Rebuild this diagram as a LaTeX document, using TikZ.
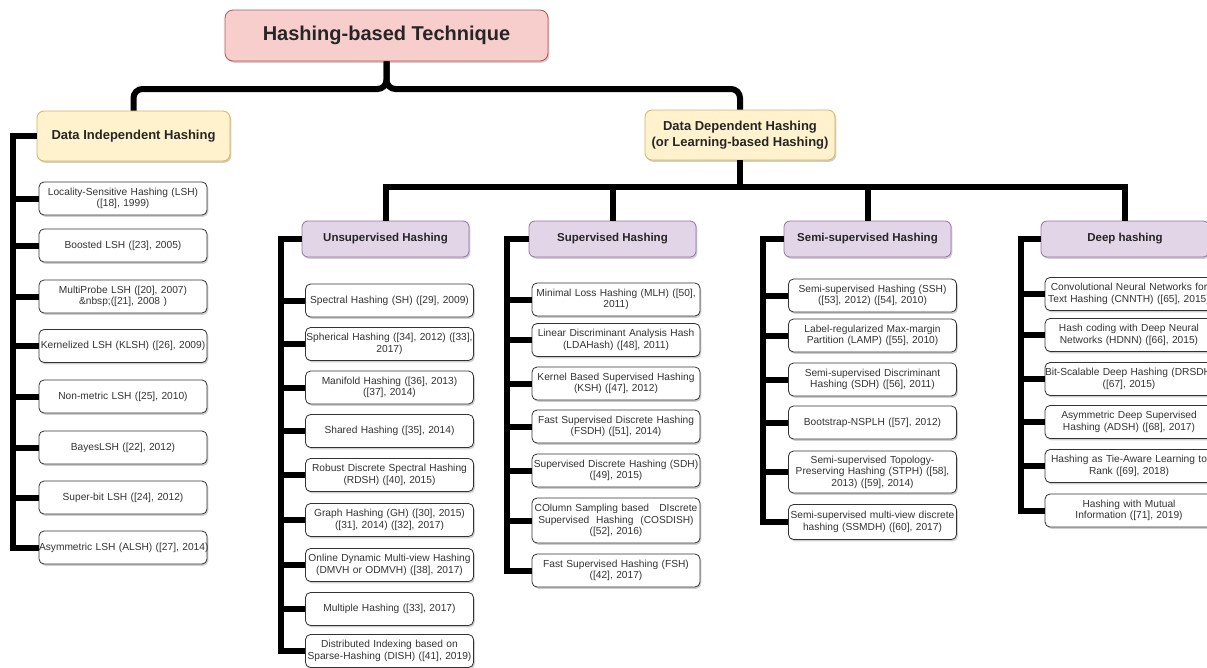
\documentclass[tikz,border=0pt]{standalone}
\usepackage{fontspec}
\setmainfont{Liberation Sans}
\usetikzlibrary{shadows}
\definecolor{rootfill}{HTML}{F8CECC}
\definecolor{rootline}{HTML}{B85450}
\definecolor{yelfill}{HTML}{FFF2CC}
\definecolor{yelline}{HTML}{D6B656}
\definecolor{purfill}{HTML}{E1D5E7}
\definecolor{purline}{HTML}{9673A6}
\definecolor{txt}{HTML}{333333}
\begin{document}
\begin{tikzpicture}[x=1pt,y=-1pt,
  shadowed/.style={drop shadow={shadow xshift=1.3pt,shadow yshift=-1.8pt,fill=black!55,opacity=0.35}},
  box/.style={shadowed,draw=black!80,line width=0.8pt,rounded corners=5pt,fill=white},
  item/.style={box,text width=168pt,inner xsep=0pt,inner ysep=0pt,align=center,
    minimum height=33pt,text=txt,font=\fontsize{10.2}{11.4}\selectfont},
  cat/.style={shadowed,draw=purline,line width=0.8pt,rounded corners=6pt,fill=purfill,
    minimum width=167pt,minimum height=36pt,inner sep=0pt,text=black!85,
    font=\bfseries\fontsize{11.5}{13}\selectfont},
  top/.style={shadowed,draw=yelline,line width=0.8pt,rounded corners=7pt,fill=yelfill,
    minimum height=50pt,inner sep=0pt,align=center,text=black!85,
    font=\bfseries\fontsize{13}{15.5}\selectfont},
  conn/.style={line width=6pt,black,line join=miter}
]
\useasboundingbox (0,0) rectangle (1207,667);

% junctions and spine tops
\coordinate (rj) at (386.5,89);
\coordinate (dj) at (740,187);
\coordinate (sp0) at (13,136);
\coordinate (sp1) at (281,239);
\coordinate (sp2) at (507,239);
\coordinate (sp3) at (763,239);
\coordinate (sp4) at (1021,239);

% root
\node[shadowed,draw=rootline,line width=0.8pt,rounded corners=8pt,fill=rootfill,
  minimum width=323pt,minimum height=51pt,inner sep=0pt,text=black!85,
  font=\bfseries\fontsize{20}{24}\selectfont] (root) at (386.5,35.5) {Hashing-based Technique};

% main branches
\node[top,minimum width=193pt] (dih) at (133.5,136) {Data Independent Hashing};
\node[top,minimum width=190pt] (ddh) at (740,135) {Data Dependent Hashing\\(or Learning-based Hashing)};

% learning-based families
\node[cat] (u) at (385.5,239) {Unsupervised Hashing};
\node[cat] (s) at (612.5,239) {Supervised Hashing};
\node[cat] (m) at (867.5,239) {Semi-supervised Hashing};
\node[cat,minimum width=168pt] (d) at (1125,239) {Deep hashing};

% tree lines
\draw[conn,rounded corners=9pt] (root.south) -- (rj) -| (dih.north);
\draw[conn,rounded corners=9pt] (root.south) -- (rj) -| (ddh.north);
\draw[conn] (ddh.south) -- (dj);
\draw[conn] (u.north) -- (u.north |- dj) -- (d.north |- dj) -- (d.north);
\draw[conn] (s.north |- dj) -- (s.north);
\draw[conn] (m.north |- dj) -- (m.north);

% data independent methods
\foreach \n/\y/\t in {
  i1/198.5/{Locality-Sensitive Hashing (LSH)\\([18], 1999)},
  i2/245.5/{Boosted LSH ([23], 2005)},
  i3/296.5/{MultiProbe LSH ([20], 2007)\\\&nbsp;([21], 2008 )},
  i4/346/{Kernelized LSH (KLSH) ([26], 2009)},
  i5/396.5/{Non-metric LSH ([25], 2010)},
  i6/447.5/{BayesLSH ([22], 2012)},
  i7/497.5/{Super-bit LSH ([24], 2012)},
  i8/547.5/{\mbox{Asymmetric LSH (ALSH) ([27], 2014)}}}
  {\node[item] (\n) at (123,\y) {\t};}

% unsupervised methods
\foreach \n/\y/\t in {
  u1/300.5/{Spectral Hashing (SH) ([29], 2009)},
  u2/344/{Spherical Hashing ([34], 2012) ([33],\\2017)},
  u3/387.5/{Manifold Hashing ([36], 2013)\\([37], 2014)},
  u4/431/{Shared Hashing ([35], 2014)},
  u5/475/{Robust Discrete Spectral Hashing\\(RDSH) ([40], 2015)},
  u6/520/{Graph Hashing (GH) ([30], 2015)\\([31], 2014) ([32], 2017)},
  u7/565/{Online Dynamic Multi-view Hashing\\(DMVH or ODMVH) ([38], 2017)},
  u8/609/{Multiple Hashing ([33], 2017)},
  u9/651/{Distributed Indexing based on\\Sparse-Hashing (DISH) ([41], 2019)}}
  {\node[item] (\n) at (389.5,\y) {\t};}

% supervised methods
\foreach \n/\y/\t in {
  s1/299.5/{Minimal Loss Hashing (MLH) ([50],\\2011)},
  s2/340/{Linear Discriminant Analysis Hash\\(LDAHash) ([48], 2011)},
  s3/383.5/{Kernel Based Supervised Hashing\\(KSH) ([47], 2012)},
  s4/426.5/{Fast Supervised Discrete Hashing\\(FSDH) ([51], 2014)},
  s5/470.5/{Supervised Discrete Hashing (SDH)\\([49], 2015)},
  s7/570.5/{Fast Supervised Hashing (FSH)\\([42], 2017)}}
  {\node[item] (\n) at (616,\y) {\t};}
\node[item,minimum height=45pt] (s6) at (616,520.5)
  {COlumn Sampling based\ \ \ DIscrete\\Supervised\ \ Hashing\ \ (COSDISH)\\([52], 2016)};

% semi-supervised methods
\foreach \n/\y/\t in {
  m1/295.5/{Semi-supervised Hashing (SSH)\\([53], 2012) ([54], 2010)},
  m2/335.5/{Label-regularized Max-margin\\Partition (LAMP) ([55], 2010)},
  m3/379.5/{Semi-supervised Discriminant\\Hashing (SDH) ([56], 2011)},
  m4/422.5/{Bootstrap-NSPLH ([57], 2012)}}
  {\node[item] (\n) at (872.5,\y) {\t};}
\node[item,minimum height=42pt] (m5) at (872.5,472)
  {Semi-supervised Topology-\\Preserving Hashing (STPH) ([58],\\2013) ([59], 2014)};
\node[item,minimum height=35pt] (m6) at (872.5,522)
  {Semi-supervised multi-view discrete\\hashing (SSMDH) ([60], 2017)};

% deep methods
\foreach \n/\y/\t in {
  d1/294/{Convolutional Neural Networks for\\Text Hashing (CNNTH) ([65], 2015)},
  d2/335/{Hash coding with Deep Neural\\Networks (HDNN) ([66], 2015)},
  d3/379/{\mbox{Bit-Scalable Deep Hashing (DRSDH)}\\([67], 2015)},
  d4/422/{Asymmetric Deep Supervised\\Hashing (ADSH) ([68], 2017)},
  d5/466/{Hashing as Tie-Aware Learning to\\Rank ([69], 2018)},
  d6/510.5/{Hashing with Mutual\\Information ([71], 2019)}}
  {\node[item] (\n) at (1129,\y) {\t};}

% spines and branches
\draw[conn] (dih.west) -- (sp0) |- (i8.west);
\foreach \n in {i1,i2,i3,i4,i5,i6,i7} \draw[conn] (\n.west -| sp0) -- (\n.west);
\draw[conn] (u.west) -- (sp1) |- (u9.west);
\foreach \n in {u1,u2,u3,u4,u5,u6,u7,u8} \draw[conn] (\n.west -| sp1) -- (\n.west);
\draw[conn] (s.west) -- (sp2) |- (s7.west);
\foreach \n in {s1,s2,s3,s4,s5,s6} \draw[conn] (\n.west -| sp2) -- (\n.west);
\draw[conn] (m.west) -- (sp3) |- (m6.west);
\foreach \n in {m1,m2,m3,m4,m5} \draw[conn] (\n.west -| sp3) -- (\n.west);
\draw[conn] (d.west) -- (sp4) |- (d6.west);
\foreach \n in {d1,d2,d3,d4,d5} \draw[conn] (\n.west -| sp4) -- (\n.west);
\end{tikzpicture}
\end{document}
